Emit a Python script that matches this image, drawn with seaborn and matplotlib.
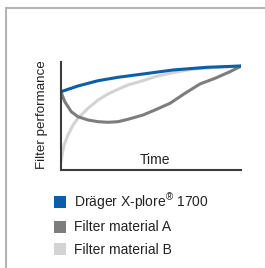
"""
Filter performance over time: Draeger X-plore 1700 vs two filter materials.
"""

import pandas as pd
import matplotlib.pyplot as plt
import seaborn as sns
from matplotlib.lines import Line2D
from matplotlib.patches import Patch

# series (x = time 0..1, y = performance 0..108)
blue_x = [0, 0.094, 0.206, 0.317, 0.456, 0.622, 0.811, 1.0]
blue_y = [78.3, 84, 89.3, 92.7, 96, 100, 102.7, 104]

mat_a_x = [0, 0.021, 0.057, 0.094, 0.15, 0.206, 0.261, 0.317, 0.372, 0.456,
           0.522, 0.606, 0.689, 0.772, 0.856, 0.939, 1.0]
mat_a_y = [78, 68.3, 58.3, 53.3, 50, 48.3, 47.7, 48.3, 50.7, 55,
           60, 66.7, 76.7, 86, 91.7, 98.3, 103.8]

mat_b_x = [0, 0.006, 0.017, 0.039, 0.067, 0.094, 0.15, 0.206, 0.261, 0.317,
           0.372, 0.456, 0.522, 0.622, 0.717, 0.856, 1.0]
mat_b_y = [8.3, 15, 25, 35, 45, 51.7, 61.7, 70, 76, 80.7,
           85, 89.3, 93.3, 97.3, 100.5, 102.5, 104]

labels = ["Dr\u00e4ger X-plore\u00ae 1700", "Filter material A", "Filter material B"]
legend_labels = ["Dr\u00e4ger X-plore$^{\u00ae}$ 1700", "Filter material A", "Filter material B"]
colors = ["#0a5fa8", "#7d7d7f", "#d3d3d3"]

df = pd.concat([
    pd.DataFrame({"t": mat_b_x, "perf": mat_b_y, "series": labels[2]}),
    pd.DataFrame({"t": mat_a_x, "perf": mat_a_y, "series": labels[1]}),
    pd.DataFrame({"t": blue_x, "perf": blue_y, "series": labels[0]}),
], ignore_index=True)

sns.set_style("white")
plt.rcParams["font.family"] = ["Liberation Sans", "DejaVu Sans"]
plt.rcParams["mathtext.fontset"] = "custom"
plt.rcParams["mathtext.rm"] = "Liberation Sans"
plt.rcParams["mathtext.it"] = "Liberation Sans"
plt.rcParams["mathtext.default"] = "regular"

fig = plt.figure(figsize=(2.65, 2.68), dpi=100)
ax = fig.add_axes([0.2302, 0.3657, 0.6792, 0.403])

sns.lineplot(data=df, x="t", y="perf", hue="series", sort=False,
             palette=dict(zip(labels, colors)), linewidth=2.2,
             legend=False, ax=ax)

ax.set_xlim(0, 1)
ax.set_ylim(0, 108)
ax.set_xticks([])
ax.set_yticks([])
ax.set_xlabel("")
ax.set_ylabel("")
for side in ["top", "right"]:
    ax.spines[side].set_visible(False)
for side in ["left", "bottom"]:
    ax.spines[side].set_color("#3c3c3c")
    ax.spines[side].set_linewidth(1.5)

ax.text(0.52, 0.088, "Time", transform=ax.transAxes, ha="center", va="center",
        fontsize=10, color="#222222")
fig.text(41.5 / 265, 1 - 115 / 268, "Filter performance", rotation=90,
         ha="center", va="center", fontsize=9.6, color="#222222")

# outer frame (top + left edges)
fig.add_artist(Line2D([5.5 / 265, 1], [1 - 8 / 268, 1 - 8 / 268],
                      color="#b4b4b4", linewidth=1.5, transform=fig.transFigure))
fig.add_artist(Line2D([5.5 / 265, 5.5 / 265], [0, 1 - 8 / 268],
                      color="#b4b4b4", linewidth=1.5, transform=fig.transFigure))

handles = [Patch(facecolor=c, edgecolor="none") for c in colors]
fig.legend(handles, legend_labels, loc="upper left",
           bbox_to_anchor=(54 / 265, 1 - 191.5 / 268), frameon=False,
           fontsize=10, handlelength=0.864, handleheight=0.952,
           handletextpad=0.55, labelspacing=0.6, borderaxespad=0,
           borderpad=0.0, labelcolor="#222222")

fig.savefig("out.png", dpi=100)
